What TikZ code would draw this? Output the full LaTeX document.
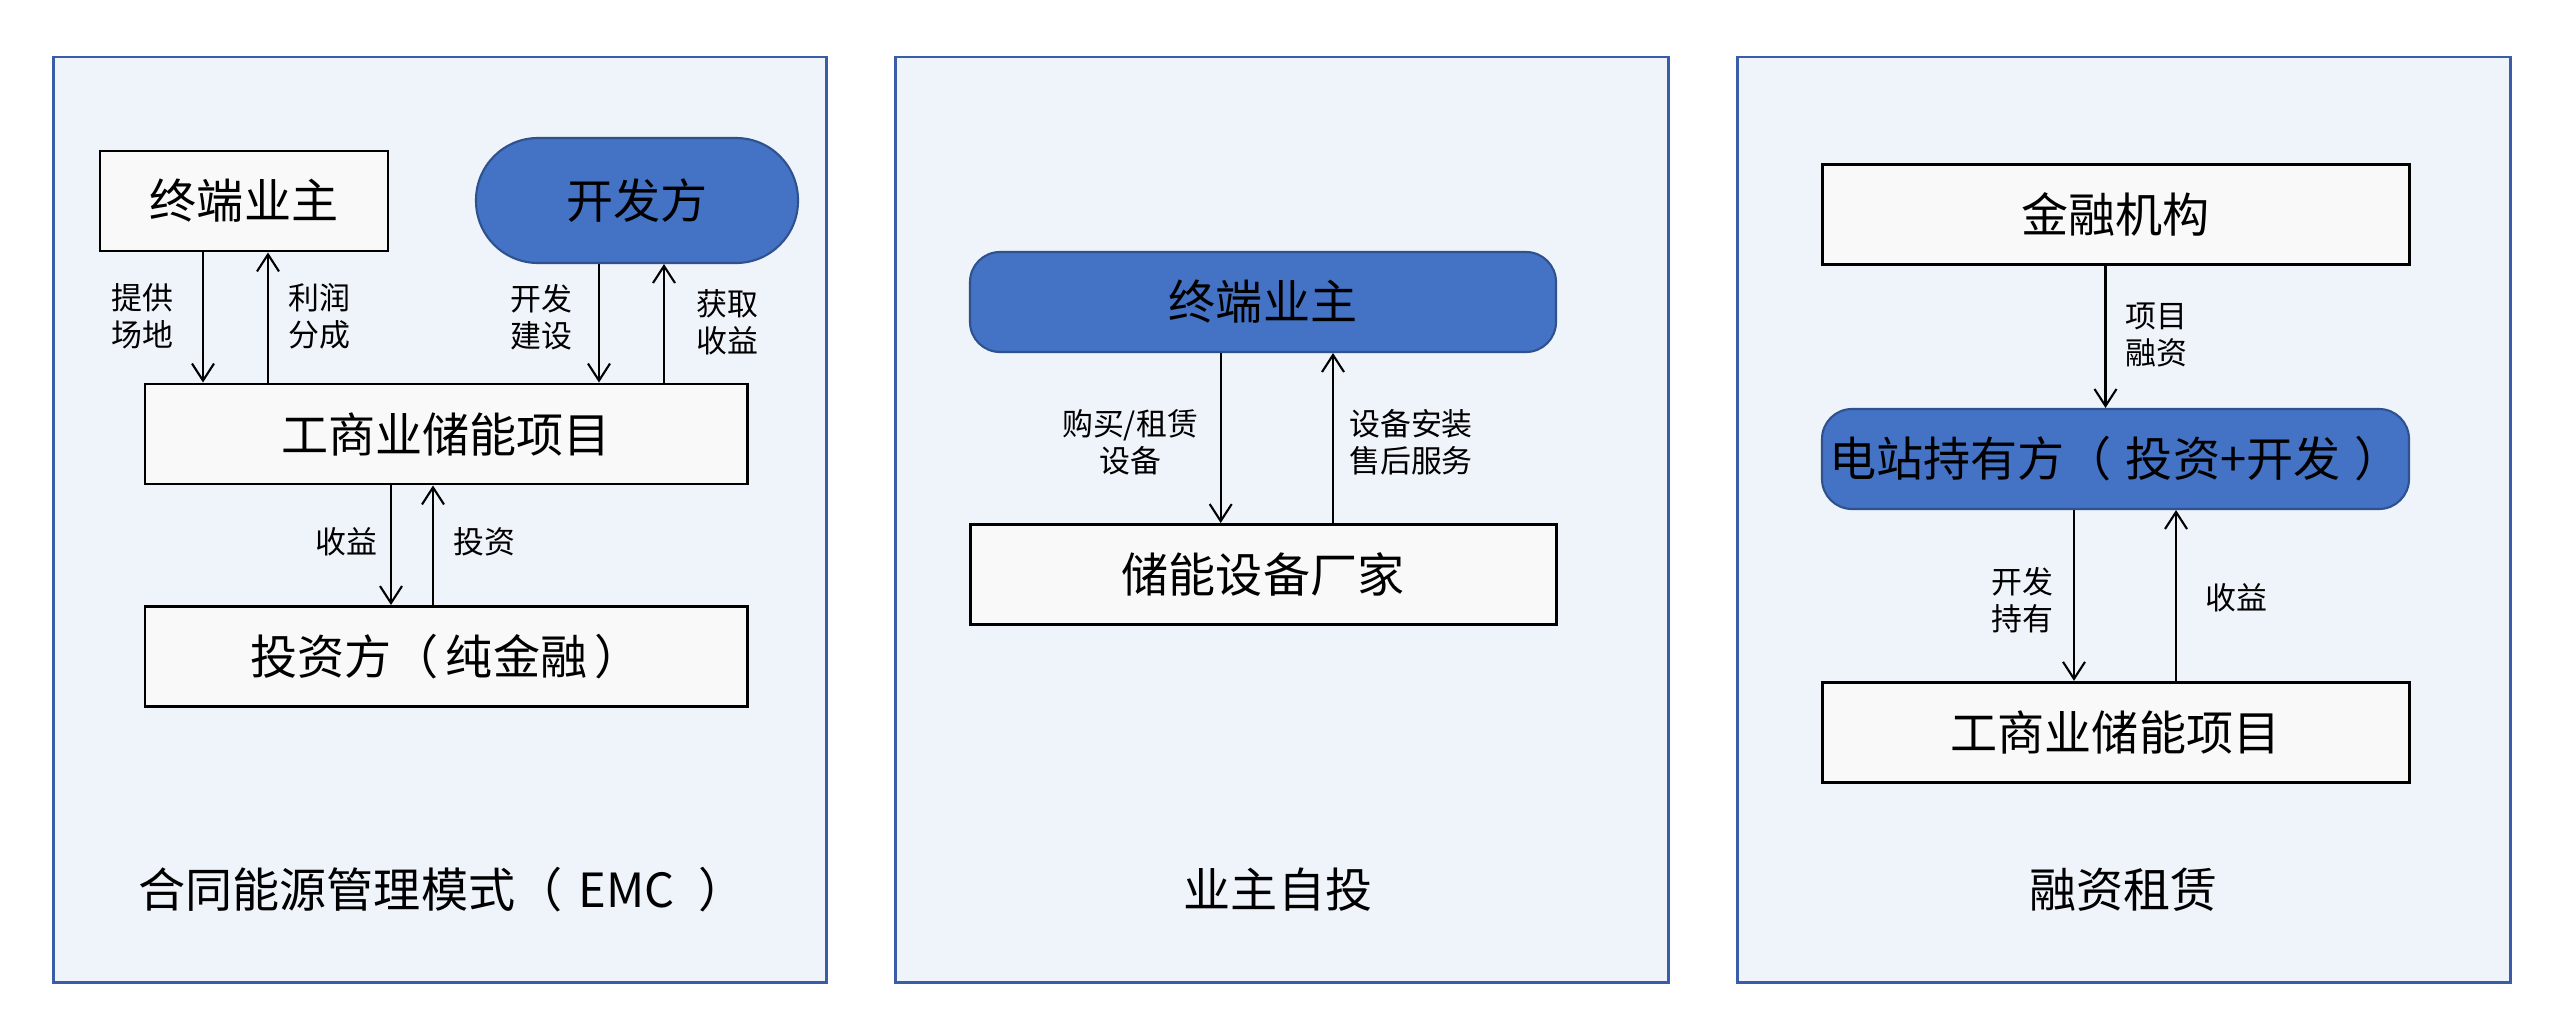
\documentclass[tikz,border=0pt]{standalone}
\usepackage{fontspec}
\setmainfont{Noto Sans CJK SC}
\usetikzlibrary{arrows.meta}
\definecolor{panelfill}{HTML}{EFF3FA}
\definecolor{panelline}{HTML}{3B5CA6}
\definecolor{bluefill}{HTML}{4472C4}
\definecolor{blueline}{HTML}{2F528F}
\definecolor{boxfill}{HTML}{F9F9F9}

\begin{document}
\begin{tikzpicture}[
  panel/.style={draw=panelline, fill=panelfill, line width=0.85pt},
  whitebox/.style={rectangle, draw=black, fill=boxfill, line width=0.85pt, inner sep=0pt,
    minimum width=#1, minimum height=1cm, font=\fontsize{13.4pt}{16pt}\selectfont},
  bluebox/.style={rectangle, rounded corners=0.3cm, draw=blueline, fill=bluefill, line width=0.6pt,
    inner sep=0pt, minimum width=#1, minimum height=1cm, font=\fontsize{13.4pt}{16pt}\selectfont},
  pill/.style={rectangle, rounded corners=0.62cm, draw=blueline, fill=bluefill, line width=0.6pt,
    inner sep=0pt, minimum width=3.22cm, minimum height=1.25cm, font=\fontsize{13.4pt}{16pt}\selectfont},
  lbl/.style={align=center, inner sep=0pt, font=\fontsize{8.8pt}{10.5pt}\selectfont},
  title/.style={inner sep=0pt, font=\fontsize{13.4pt}{16pt}\selectfont},
  arr/.style={-{Straight Barb[length=1.7mm,width=2.2mm]}, line width=0.6pt}
]
  \useasboundingbox (0,0) rectangle (25.6,-10.13);

  % panels
  \draw[panel] (0.535,-0.57) rectangle (8.265,-9.82);
  \draw[panel] (8.95,-0.57) rectangle (16.685,-9.82);
  \draw[panel] (17.37,-0.57) rectangle (25.105,-9.82);

  % EMC
  \node[whitebox=2.88cm] (own1) at (2.44,-2.01) {终端业主};
  \node[pill] (dev1) at (6.37,-2.005) {开发方};
  \node[whitebox=6.02cm] (proj1) at (4.46,-4.34) {工商业储能项目};
  \node[whitebox=6.02cm] (inv1) at (4.46,-6.565) {投资方（\hspace{0.15em}纯金融\hspace{0.15em}）};
  \node[title] (t1) at (4.42,-8.90) {合同能源管理模式（\hspace{0.35em}EMC\hspace{0.5em}）};
  \draw[arr] ([xshift=-4.1mm]own1.south) -- ([xshift=-4.1mm]own1.south |- proj1.north);
  \draw[arr] ([xshift=2.4mm]own1.south |- proj1.north) -- ([xshift=2.4mm]own1.south);
  \draw[arr] ([xshift=-3.8mm]dev1.south) -- ([xshift=-3.8mm]dev1.south |- proj1.north);
  \draw[arr] ([xshift=2.7mm]dev1.south |- proj1.north) -- ([xshift=2.7mm]dev1.south);
  \draw[arr] ([xshift=-5.5mm]proj1.south) -- ([xshift=-5.5mm]proj1.south |- inv1.north);
  \draw[arr] ([xshift=-1.3mm]proj1.south |- inv1.north) -- ([xshift=-1.3mm]proj1.south);
  \node[lbl] (l1) at (1.425,-3.16) {提供\\场地};
  \node[lbl] (l2) at (3.19,-3.16) {利润\\分成};
  \node[lbl] (l3) at (5.41,-3.17) {开发\\建设};
  \node[lbl] (l4) at (7.275,-3.22) {获取\\收益};
  \node[lbl] (l5) at (3.46,-5.42) {收益};
  \node[lbl] (l6) at (4.84,-5.42) {投资};

  % self-investment
  \node[bluebox=5.86cm] (own2) at (12.63,-3.02) {终端业主};
  \node[whitebox=5.86cm] (mfr) at (12.63,-5.745) {储能设备厂家};
  \node[title] (t2) at (12.78,-8.90) {业主自投};
  \draw[arr] ([xshift=-4.23mm]own2.south) -- ([xshift=-4.23mm]own2.south |- mfr.north);
  \draw[arr] ([xshift=7mm]own2.south |- mfr.north) -- ([xshift=7mm]own2.south);
  \node[lbl] (l7) at (11.30,-4.42) {购买/租赁\\设备};
  \node[lbl] (l8) at (14.11,-4.42) {设备安装\\售后服务};

  % leasing
  \node[whitebox=5.87cm] (fin) at (21.155,-2.145) {金融机构};
  \node[bluebox=5.87cm] (own3) at (21.155,-4.59) {电站持有方（\hspace{0.3em}投资+开发\hspace{0.3em}）};
  \node[whitebox=5.87cm] (proj3) at (21.155,-7.323) {工商业储能项目};
  \node[title] (t3) at (21.235,-8.90) {融资租赁};
  \draw[arr] ([xshift=-1mm]fin.south) -- ([xshift=-1mm]fin.south |- own3.north);
  \draw[arr] ([xshift=-4.15mm]own3.south) -- ([xshift=-4.15mm]own3.south |- proj3.north);
  \draw[arr] ([xshift=6.05mm]own3.south |- proj3.north) -- ([xshift=6.05mm]own3.south);
  \node[lbl] (l9) at (21.56,-3.35) {项目\\融资};
  \node[lbl] (l10) at (20.226,-6.00) {开发\\持有};
  \node[lbl] (l11) at (22.36,-5.98) {收益};
\end{tikzpicture}
\end{document}
